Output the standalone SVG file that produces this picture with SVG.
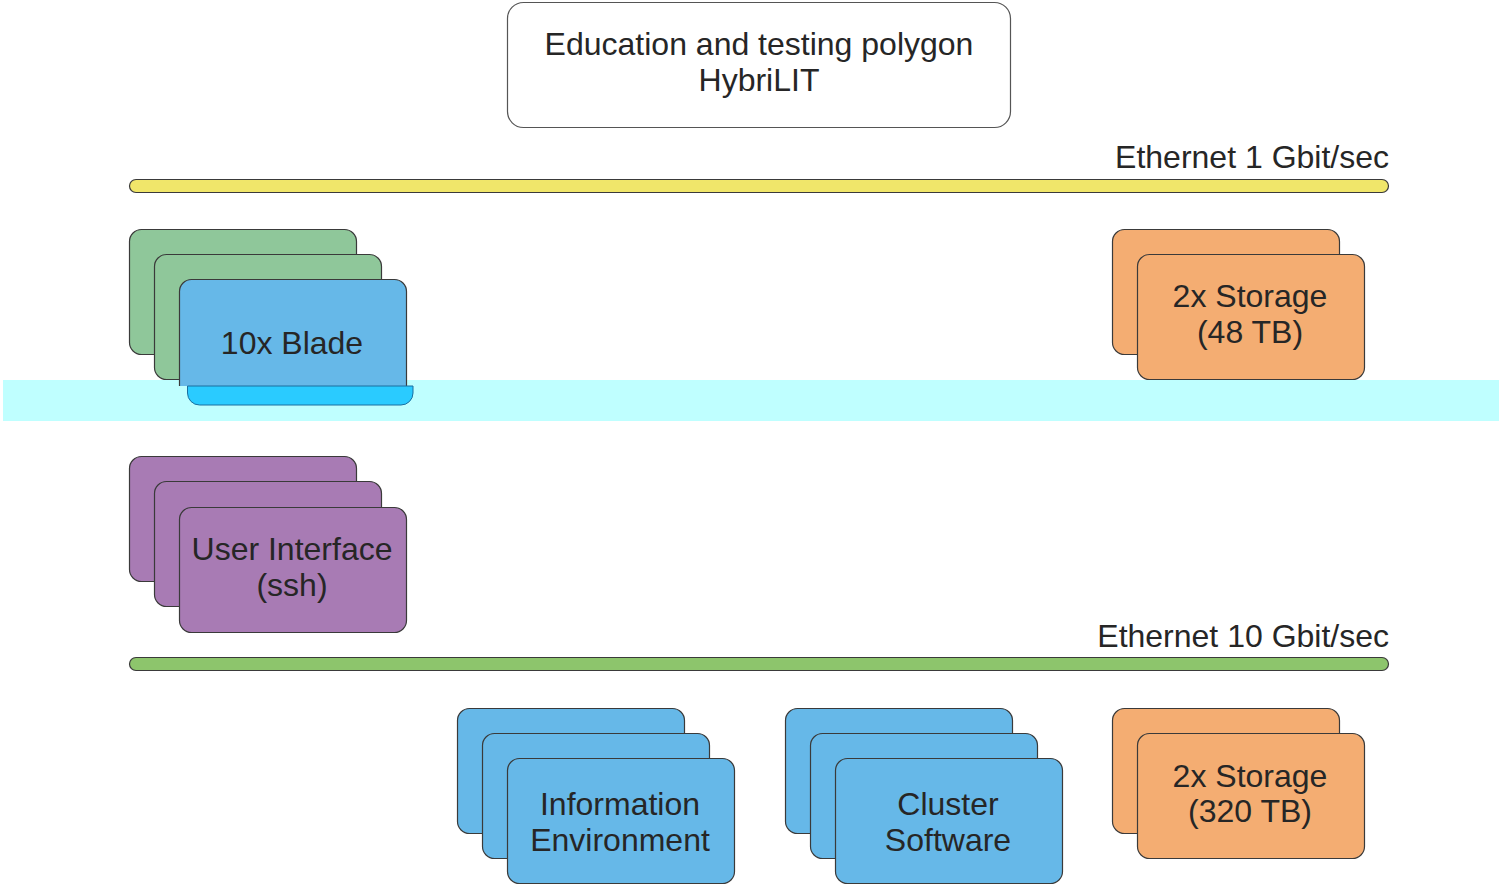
<svg xmlns="http://www.w3.org/2000/svg" width="1499" height="885" viewBox="0 0 1499 885">
<style>
.c{stroke:#3a3a3a;stroke-width:1.2}
.g{fill:#8fc79a}.b{fill:#66b8e8}.o{fill:#f4ad72}.p{fill:#a87bb4}
text{font-family:"Liberation Sans",Arial,sans-serif;font-size:32px;fill:#262626;text-anchor:middle}
.r{text-anchor:end}
</style>
<rect width="1499" height="885" fill="#ffffff"/>
<g id="title"><rect x="507.5" y="2.5" width="503" height="125" rx="16" fill="#fff" stroke="#555" stroke-width="1.2"/>
<text x="759" y="55">Education and testing polygon</text><text x="759" y="91">HybriLIT</text></g>
<g id="connectors">
<rect id="eth1" x="129.5" y="179.5" width="1259" height="13" rx="6.5" fill="#f0e66a" class="c"/>
<text class="r" x="1389" y="168">Ethernet 1 Gbit/sec</text>
<rect id="eth10" x="129.5" y="657.5" width="1259" height="13" rx="6.5" fill="#8dc56c" class="c"/>
<text class="r" x="1389" y="647">Ethernet 10 Gbit/sec</text>
</g>
<g id="blade">
<rect x="129.5" y="229.5" width="227" height="125" rx="12" class="c g"/>
<rect x="154.5" y="254.5" width="227" height="125" rx="12" class="c g"/>
</g>
<g id="storage48">
<rect x="1112.5" y="229.5" width="227" height="125" rx="12" class="c o"/>
<rect x="1137.5" y="254.5" width="227" height="125" rx="12" class="c o"/>
<text x="1250" y="307">2x Storage</text><text x="1250" y="343">(48 TB)</text>
</g>
<g id="band">
<rect x="3" y="380" width="1496" height="41" fill="#bfffff"/>
</g>
<g id="blade-front">
<path d="M179.5 386 V291.5 a12 12 0 0 1 12 -12 H394.5 a12 12 0 0 1 12 12 V386" class="c b"/>
<path d="M187.5 386 V393 a12 12 0 0 0 12 12 H401 a12 12 0 0 0 12 -12 V386 Z" fill="#2acbff" stroke="#1a6fa0" stroke-width="1"/>
<text x="292" y="354">10x Blade</text>
</g>
<g id="ui">
<rect x="129.5" y="456.5" width="227" height="125" rx="12" class="c p"/>
<rect x="154.5" y="481.5" width="227" height="125" rx="12" class="c p"/>
<rect x="179.5" y="507.5" width="227" height="125" rx="12" class="c p"/>
<text x="292" y="560">User Interface</text><text x="292" y="596">(ssh)</text>
</g>
<g id="info">
<rect x="457.5" y="708.5" width="227" height="125" rx="12" class="c b"/>
<rect x="482.5" y="733.5" width="227" height="125" rx="12" class="c b"/>
<rect x="507.5" y="758.5" width="227" height="125" rx="12" class="c b"/>
<text x="620" y="815">Information</text><text x="620" y="851">Environment</text>
</g>
<g id="cluster">
<rect x="785.5" y="708.5" width="227" height="125" rx="12" class="c b"/>
<rect x="810.5" y="733.5" width="227" height="125" rx="12" class="c b"/>
<rect x="835.5" y="758.5" width="227" height="125" rx="12" class="c b"/>
<text x="948" y="815">Cluster</text><text x="948" y="851">Software</text>
</g>
<g id="storage320">
<rect x="1112.5" y="708.5" width="227" height="125" rx="12" class="c o"/>
<rect x="1137.5" y="733.5" width="227" height="125" rx="12" class="c o"/>
<text x="1250" y="787">2x Storage</text><text x="1250" y="822">(320 TB)</text>
</g>
</svg>
